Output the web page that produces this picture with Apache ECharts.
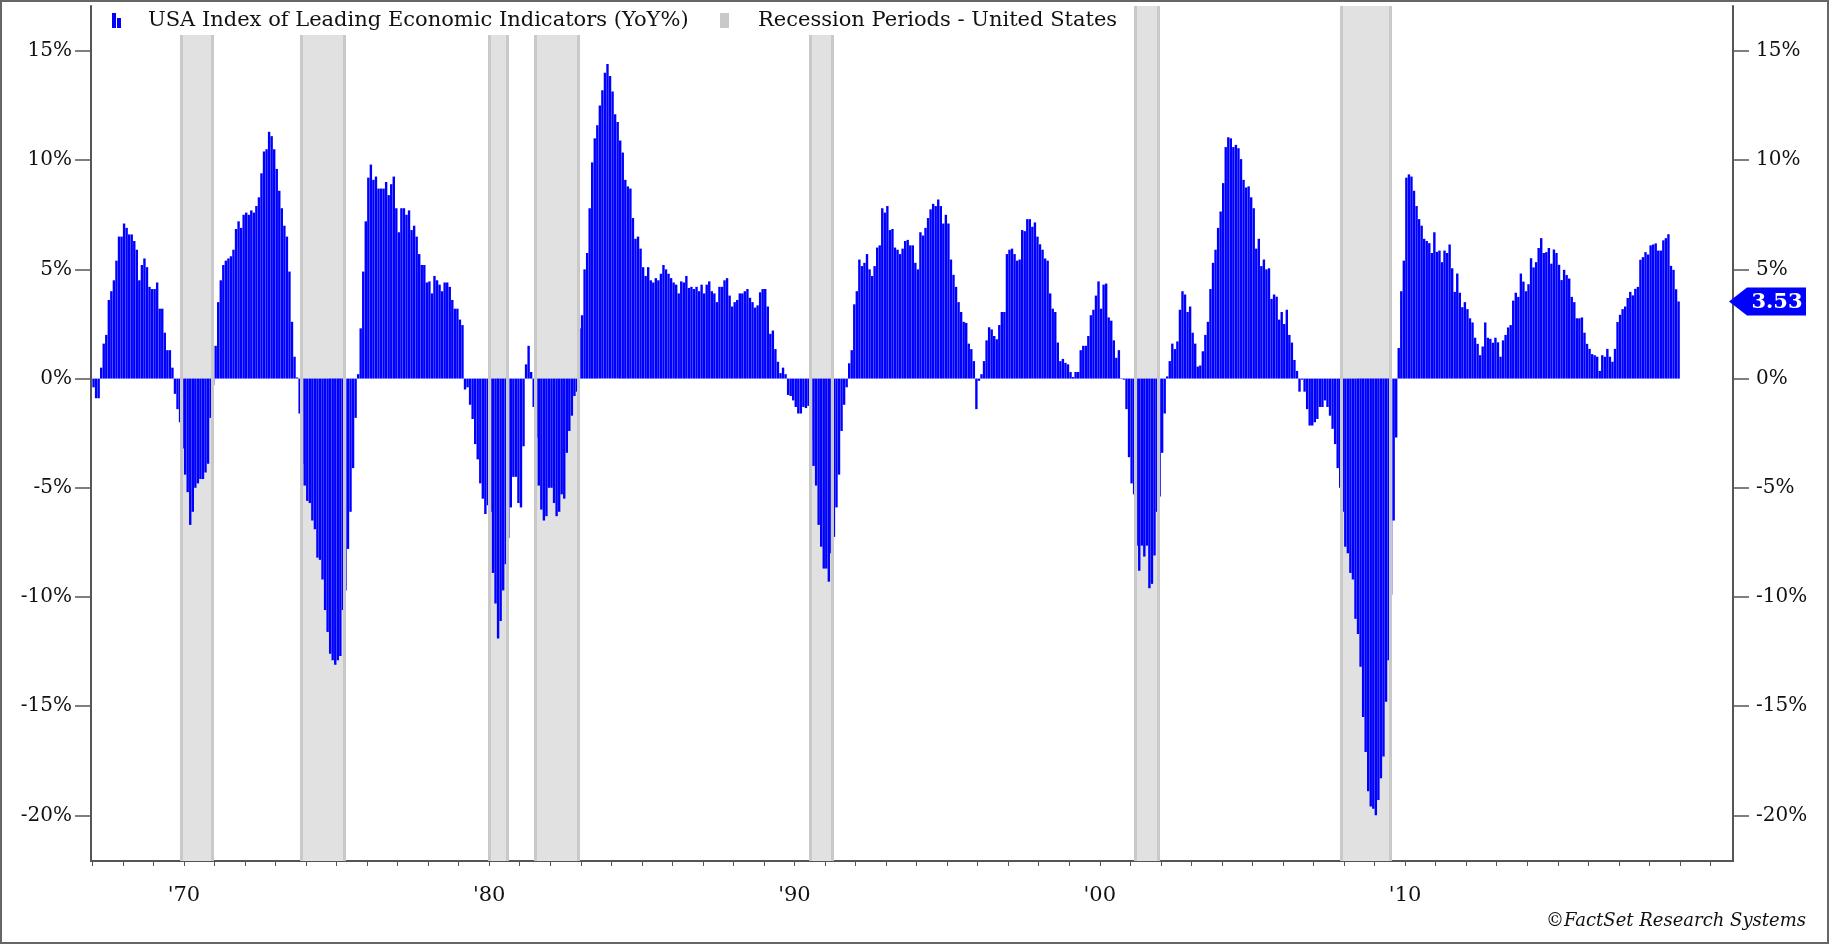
<!DOCTYPE html>
<html>
<head>
<meta charset="utf-8">
<script src="https://cdn.jsdelivr.net/npm/echarts@6/dist/echarts.min.js"></script>
<style>
  html, body { margin: 0; padding: 0; background: #fff; }
  #main { width: 1829px; height: 944px; }
</style>
</head>
<body>
<div id="main"></div>
<script>
// USA Index of Leading Economic Indicators, YoY %, monthly (Jan..Dec per row)
const lei1960s = [ // 1967 - 1969
  -0.4, -0.9, -0.9, 0.5, 1.6, 2.0, 3.6, 4.0, 4.5, 5.4, 6.5, 6.5,
  7.1, 6.9, 6.6, 6.6, 6.3, 5.9, 4.5, 5.2, 5.5, 5.1, 4.2, 4.1,
  4.1, 4.4, 3.2, 3.2, 2.1, 1.3, 1.3, 0.5, -0.7, -1.4, -2.0, -3.2
];
const lei1970s = [
  -4.4, -5.2, -6.7, -6.1, -5.0, -4.8, -4.6, -4.6, -4.3, -3.9, -1.8, -0.3,
  1.5, 3.5, 4.5, 5.2, 5.4, 5.5, 5.6, 5.9, 6.85, 7.2, 6.9, 7.5,
  7.6, 7.5, 7.7, 7.6, 7.9, 8.3, 9.4, 10.4, 10.5, 11.3, 11.1, 10.5,
  9.6, 8.6, 7.8, 7.0, 6.5, 4.9, 2.6, 1.0, 0.05, -1.6, -3.9, -4.9,
  -5.6, -5.7, -6.5, -6.9, -8.2, -8.3, -9.2, -10.6, -11.6, -12.6, -12.9, -13.1,
  -12.9, -12.7, -10.6, -9.7, -7.8, -6.1, -4.1, -1.8, 0.2, 2.3, 4.9, 7.2,
  9.2, 9.8, 9.1, 9.25, 8.7, 8.7, 8.7, 9.0, 8.4, 8.9, 9.25, 7.8,
  6.7, 7.8, 7.8, 7.5, 7.7, 6.8, 7.0, 6.5, 5.7, 5.2, 5.2, 4.4,
  4.45, 3.9, 4.7, 4.5, 4.3, 4.0, 4.4, 4.4, 4.2, 3.6, 3.2, 3.2,
  2.7, 2.45, -0.5, -0.4, -1.2, -1.85, -3.0, -3.7, -4.8, -5.5, -6.2, -5.8
];
const lei1980s = [
  -6.1, -8.9, -10.3, -11.9, -11.1, -9.7, -8.5, -7.3, -5.9, -4.5, -4.5, -5.7,
  -5.9, -3.1, 0.65, 1.5, 0.3, -1.3, -2.7, -4.9, -6.0, -6.5, -6.3, -5.0,
  -5.0, -5.7, -6.3, -6.1, -5.3, -5.5, -3.4, -2.4, -1.7, -0.8, -0.6, 2.3,
  2.9, 5.0, 5.75, 7.8, 9.9, 11.0, 11.6, 12.5, 13.2, 14.0, 14.4, 13.85,
  13.15, 12.1, 11.75, 10.9, 10.35, 9.1, 8.8, 8.7, 7.35, 6.4, 6.5, 5.95,
  5.1, 4.7, 5.1, 4.5, 4.4, 4.6, 4.5, 4.8, 5.2, 5.0, 4.8, 4.6,
  4.4, 4.3, 3.9, 4.45, 4.4, 4.7, 4.15, 4.2, 4.1, 4.2, 4.0, 4.3,
  3.9, 4.3, 4.45, 4.0, 3.9, 3.5, 4.2, 4.2, 4.5, 4.6, 3.8, 3.3,
  3.5, 3.6, 3.9, 3.9, 4.0, 4.1, 3.7, 3.5, 3.25, 3.35, 3.95, 4.1,
  4.1, 3.3, 2.05, 2.2, 1.35, 0.77, 0.25, 0.5, 0.2, -0.75, -0.8, -1.0
];
const lei1990s = [
  -1.3, -1.6, -1.6, -1.3, -1.35, -1.25, -2.85, -4.0, -4.9, -6.7, -7.7, -8.7,
  -8.7, -9.3, -8.0, -7.25, -5.9, -4.4, -2.4, -1.2, -0.4, 0.7, 1.3, 3.4,
  4.0, 5.45, 5.15, 5.3, 5.7, 5.0, 4.7, 5.15, 6.0, 6.1, 7.8, 7.6,
  7.9, 6.8, 6.85, 6.0, 5.9, 5.7, 5.95, 6.3, 6.35, 6.1, 6.1, 5.3,
  5.0, 6.7, 6.55, 6.9, 7.35, 7.75, 8.0, 7.9, 8.2, 7.9, 7.1, 7.5,
  7.1, 5.45, 4.75, 4.2, 3.5, 3.05, 2.6, 2.55, 1.6, 1.35, 0.8, -1.4,
  -0.1, 0.2, 0.8, 1.75, 2.35, 2.25, 1.95, 1.8, 2.45, 3.05, 3.05, 5.7,
  5.9, 5.95, 5.7, 5.4, 5.45, 6.8, 6.75, 7.3, 7.3, 6.95, 7.15, 6.5,
  6.15, 5.9, 5.5, 5.4, 3.9, 3.2, 3.05, 1.65, 0.8, 0.9, 0.72, 0.65,
  0.3, 0.07, 0.3, 0.3, 1.3, 1.5, 1.5, 1.95, 2.9, 3.15, 3.8, 4.45
];
const lei2000s = [
  3.2, 4.3, 4.35, 2.8, 2.65, 1.75, 0.95, 1.3, 0.02, -0.05, -1.4, -3.6,
  -4.8, -5.3, -7.65, -8.8, -7.65, -8.15, -7.65, -9.6, -9.4, -8.1, -6.1, -5.4,
  -3.4, -1.6, 0.1, 0.8, 1.6, 1.35, 1.7, 3.15, 4.0, 3.85, 3.05, 3.3,
  2.1, 1.6, 0.55, 0.6, 1.25, 2.0, 2.6, 4.1, 5.3, 5.9, 6.9, 7.65,
  8.95, 10.6, 11.05, 11.0, 10.6, 10.7, 10.55, 10.05, 9.1, 8.75, 8.8, 8.3,
  7.8, 5.95, 6.4, 5.15, 5.45, 5.0, 5.05, 3.65, 3.85, 3.75, 2.7, 3.05,
  2.5, 3.15, 2.0, 1.65, 0.85, 0.35, -0.6, -0.05, -0.6, -1.4, -2.15, -2.15,
  -2.0, -1.85, -1.3, -1.3, -1.0, -1.3, -1.7, -2.3, -3.0, -4.1, -5.0, -6.1,
  -7.7, -8.0, -8.9, -9.2, -11.0, -11.7, -13.2, -15.5, -17.1, -18.9, -19.6, -19.7,
  -20.0, -19.3, -18.3, -17.3, -14.8, -12.9, -9.9, -6.5, -2.7, 1.4, 4.0, 5.4
];
const lei2010s = [ // 2010 - 2018
  9.2, 9.35, 9.25, 8.6, 7.9, 7.3, 7.0, 6.4, 6.3, 6.2, 5.75, 6.7,
  5.8, 5.86, 5.33, 5.86, 5.75, 6.14, 5.05, 3.97, 4.81, 3.93, 3.27, 3.5,
  3.18, 2.76, 2.57, 1.87, 1.59, 1.07, 1.47, 2.57, 1.87, 1.82, 1.64, 1.87,
  1.66, 1.0, 1.75, 2.0, 2.34, 2.45, 3.57, 3.93, 3.74, 4.81, 4.44, 4.0,
  4.32, 5.51, 5.09, 5.33, 5.98, 6.43, 5.75, 5.79, 5.98, 5.26, 5.91, 5.75,
  5.21, 4.51, 4.98, 4.74, 4.58, 3.74, 3.5, 2.76, 2.76, 2.8, 2.1, 1.59,
  1.36, 1.12, 1.07, 1.0, 0.35, 1.07, 1.0, 1.36, 1.0, 0.77, 1.36, 2.59,
  2.92, 3.18, 3.3, 3.69, 3.97, 3.81, 4.11, 4.2, 5.44, 5.56, 5.79, 5.68,
  6.1, 6.14, 6.19, 5.86, 5.86, 6.33, 6.43, 6.61, 5.16, 4.98, 4.09, 3.53
];
const firstYear = 1967;

// NBER recessions [start 'YYYY-MM', end 'YYYY-MM'] (inclusive months)
const recessions = [
  ['1969-12', '1970-11'],
  ['1973-11', '1975-03'],
  ['1980-01', '1980-07'],
  ['1981-07', '1982-11'],
  ['1990-07', '1991-03'],
  ['2001-03', '2001-11'],
  ['2007-12', '2009-06']
];

const decadeYears = [1970, 1980, 1990, 2000, 2010];
const decadeLabels = ["'70", "'80", "'90", "'00", "'10"];
const yTicks = [-20, -15, -10, -5, 0, 5, 10, 15];

const FONT = 'DejaVu Serif';
const BLUE = '#0000ff';
const GREY_EDGE = '#c9c9c9';

let allValues = [].concat(lei1960s, lei1970s, lei1980s, lei1990s, lei2000s, lei2010s);
let barData = allValues.map((v, i) => [firstYear + (i + 0.5) / 12, v]);

let ym = (s, endOfMonth) => {
  let p = s.split('-');
  return +p[0] + (+p[1] - (endOfMonth ? 0 : 1)) / 12;
};
let recessionAreas = recessions.map(r => [{ xAxis: ym(r[0], false) }, { xAxis: ym(r[1], true) }]);
let recessionEdges = [];
recessions.forEach(r => {
  recessionEdges.push({ xAxis: ym(r[0], false) });
  recessionEdges.push({ xAxis: ym(r[1], true) });
});

let yearTicks = [];
for (let y = 1967; y <= 2020; y++) yearTicks.push(y);

let yMin = -22.09, yMax = 17.06;

let yAxisBase = (pos, margin) => ({
  type: 'value',
  position: pos,
  min: yMin,
  max: yMax,
  axisLine: { show: true, lineStyle: { color: '#555', width: 2 } },
  axisTick: { show: true, length: 16, customValues: yTicks, lineStyle: { color: '#555', width: 1.5 } },
  axisLabel: {
    customValues: yTicks,
    formatter: v => v + '%',
    color: '#111',
    fontFamily: FONT,
    fontSize: 20,
    margin: margin
  },
  splitLine: { show: false }
});

var myChart = echarts.init(document.getElementById('main'));

var option = {
  animation: false,
  backgroundColor: '#fff',
  grid: { left: 91, right: 96, top: 6, bottom: 83, containLabel: false },
  xAxis: {
    type: 'value',
    min: 1966.958,
    max: 2020.74,
    axisLine: { show: true, onZero: false, lineStyle: { color: '#555', width: 2 } },
    axisTick: { show: true, length: 5, customValues: yearTicks, lineStyle: { color: '#555', width: 1 } },
    axisLabel: {
      customValues: decadeYears,
      formatter: v => decadeLabels[decadeYears.indexOf(Math.round(v))] || '',
      color: '#111',
      fontFamily: FONT,
      fontSize: 21,
      margin: 24
    },
    splitLine: { show: false }
  },
  yAxis: [yAxisBase('left', 19), yAxisBase('right', 23)],
  series: [
    {
      name: 'Recession Periods - United States',
      type: 'line',
      data: [],
      z: 1,
      markArea: {
        silent: true,
        itemStyle: { color: '#e1e1e1' },
        data: recessionAreas
      },
      markLine: {
        silent: true,
        symbol: 'none',
        label: { show: false },
        lineStyle: { color: GREY_EDGE, width: 3, type: 'solid' },
        data: recessionEdges
      }
    },
    {
      name: 'USA Index of Leading Economic Indicators (YoY%)',
      type: 'bar',
      z: 2,
      barWidth: 2.4,
      itemStyle: { color: BLUE },
      data: barData
    }
  ]
};

myChart.setOption(option);

// legend box, last-value tag, credit and frame
let lastValue = allValues[allValues.length - 1];
let tagY = myChart.convertToPixel({ yAxisIndex: 0 }, lastValue);
let axisX = 1829 - 96;

myChart.setOption({
  graphic: [
    { type: 'rect', z: 10, shape: { x: 99, y: 6, width: 1032, height: 29 }, style: { fill: '#fff' } },
    { type: 'rect', z: 11, shape: { x: 112, y: 13, width: 4, height: 15 }, style: { fill: BLUE } },
    { type: 'rect', z: 11, shape: { x: 117, y: 18, width: 4, height: 10 }, style: { fill: BLUE } },
    { type: 'text', z: 11, x: 148, y: 21, style: { text: 'USA Index of Leading Economic Indicators (YoY%)', fill: '#111', font: '21px "' + FONT + '"', verticalAlign: 'middle' } },
    { type: 'rect', z: 11, shape: { x: 720, y: 13, width: 9, height: 15 }, style: { fill: GREY_EDGE } },
    { type: 'text', z: 11, x: 758, y: 21, style: { text: 'Recession Periods - United States', fill: '#111', font: '21px "' + FONT + '"', verticalAlign: 'middle' } },
    { type: 'polygon', z: 11, shape: { points: [[axisX - 4, tagY], [axisX + 14, tagY - 14], [1806, tagY - 14], [1806, tagY + 14], [axisX + 14, tagY + 14]] }, style: { fill: BLUE } },
    { type: 'text', z: 12, x: 1777, y: tagY + 1, style: { text: lastValue.toFixed(2), fill: '#fff', font: 'bold 21px "' + FONT + '"', align: 'center', verticalAlign: 'middle' } },
    { type: 'text', z: 11, x: 1806, y: 921, style: { text: '\u00a9FactSet Research Systems', fill: '#111', font: 'italic 18px "' + FONT + '"', align: 'right', verticalAlign: 'middle' } },
    { type: 'rect', z: 20, shape: { x: 1, y: 1, width: 1827, height: 942 }, style: { fill: 'none', stroke: '#666', lineWidth: 2 } }
  ]
});
</script>
</body>
</html>
